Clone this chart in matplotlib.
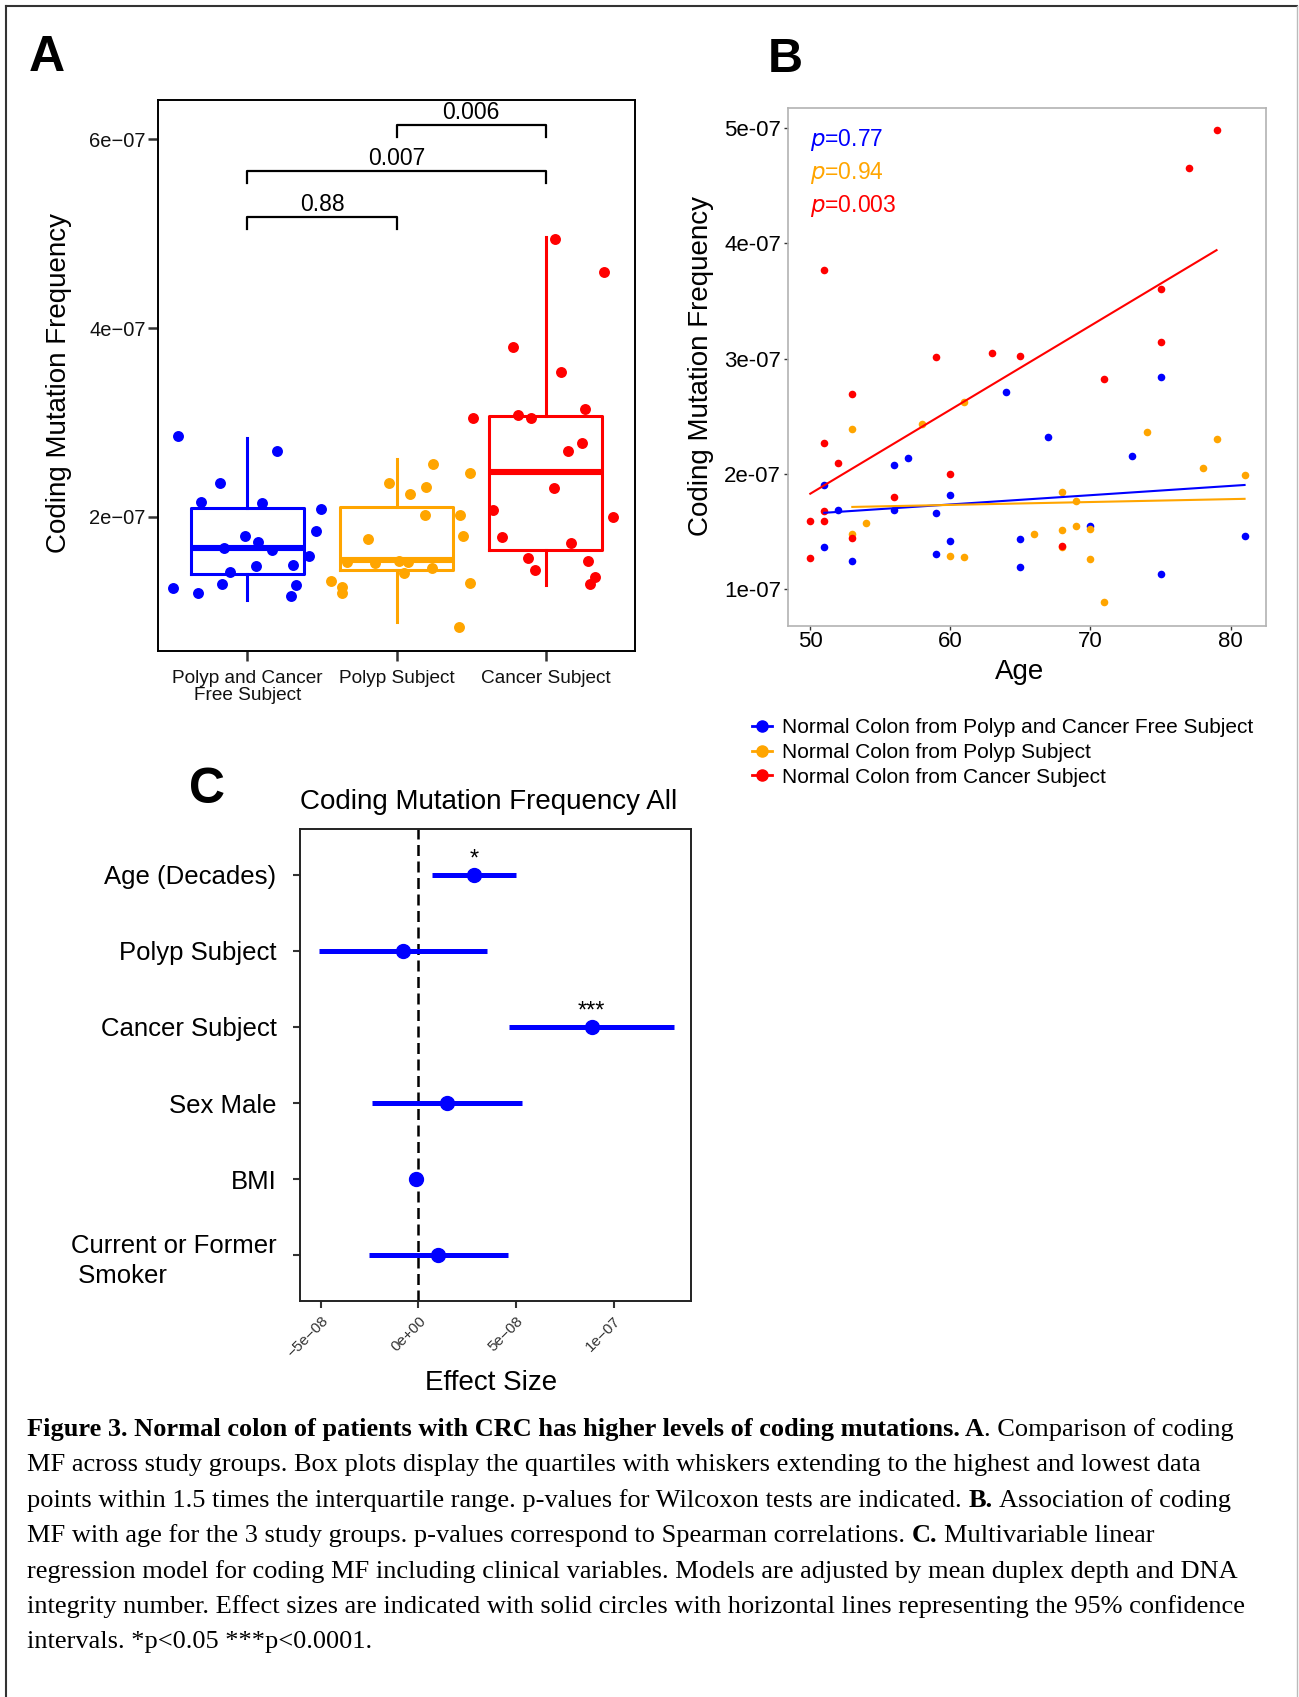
import numpy as np
import matplotlib.pyplot as plt
from matplotlib.lines import Line2D

W, H = 1299, 1697
BLUE, ORANGE, RED = '#0000FF', '#FFA500', '#FF0000'
SANS = 'Liberation Sans'
SERIF = 'Liberation Serif'
plt.rcParams['font.family'] = SANS

# ---------------- panel A: coding MF per group (units 1e-7) ----------------
a_groups = ['Polyp and Cancer\nFree Subject', 'Polyp Subject', 'Cancer Subject']
free_mf = [2.855, 2.696, 2.361, 2.155, 2.147, 2.080, 1.853, 1.803, 1.732, 1.669,
           1.648, 1.581, 1.488, 1.480, 1.417, 1.291, 1.245, 1.279, 1.199, 1.166]
free_jit = [-0.465, 0.198, -0.185, -0.314, 0.096, 0.494, 0.459, -0.013, 0.073, -0.154,
            0.165, 0.410, 0.305, 0.056, -0.116, -0.169, -0.499, 0.323, -0.334, 0.292]
polyp_mf = [2.562, 2.461, 2.361, 2.319, 2.247, 2.017, 2.017, 1.795, 1.769, 1.526,
            1.514, 1.535, 1.526, 1.409, 1.455, 1.317, 1.258, 1.191, 1.304, 0.830]
polyp_jit = [0.247, 0.490, -0.049, 0.198, 0.091, 0.192, 0.425, 0.443, -0.194, -0.334,
             -0.143, 0.018, 0.080, 0.047, 0.241, -0.439, -0.367, -0.363, 0.492, 0.416]
cancer_mf = [4.943, 4.595, 3.799, 3.535, 3.145, 3.044, 3.082, 3.044, 2.784, 2.700,
             2.302, 2.075, 1.996, 1.790, 1.727, 1.564, 1.438, 1.535, 1.367, 1.287]
cancer_jit = [0.060, 0.390, -0.218, 0.102, 0.267, -0.486, -0.185, -0.100, 0.245, 0.149,
              0.058, -0.352, 0.452, -0.290, 0.174, -0.118, -0.073, 0.285, 0.332, 0.301]

# box statistics as drawn (units 1e-7)
a_q1 = [1.400, 1.442, 1.652]
a_med = [1.669, 1.547, 2.474]
a_q3 = [2.092, 2.109, 3.065]
a_lo = [1.124, 0.885, 1.275]
a_hi = [2.834, 2.612, 4.964]

a_yticks = [2e-7, 4e-7, 6e-7]
a_yticklabels = ['2e\u221207', '4e\u221207', '6e\u221207']

br_pairs = [(1, 2), (1, 3), (2, 3)]
br_y = [5.175, 5.664, 6.155]
br_labels = ['0.88', '0.007', '0.006']

# ---------------- panel B: MF vs age (units 1e-7) ----------------
b_free_age = [75, 64, 67, 73, 57, 56, 51, 60, 52, 56, 59, 70, 81, 65, 60, 51, 59, 53, 65, 75]
b_free_mf = [2.844, 2.707, 2.318, 2.155, 2.138, 2.082, 1.905, 1.819, 1.692, 1.686,
             1.662, 1.552, 1.459, 1.436, 1.419, 1.363, 1.306, 1.246, 1.196, 1.130]
b_polyp_age = [61, 58, 53, 74, 79, 78, 81, 68, 69, 54, 69, 68, 70, 53, 66, 68, 60, 61, 70, 71]
b_polyp_mf = [2.621, 2.431, 2.388, 2.361, 2.304, 2.048, 1.995, 1.845, 1.762, 1.572,
              1.552, 1.516, 1.526, 1.479, 1.479, 1.369, 1.286, 1.283, 1.263, 0.890]
b_cancer_age = [79, 77, 51, 75, 75, 59, 63, 65, 71, 53, 51, 52, 60, 56, 51, 50, 51, 53, 50, 68]
b_cancer_mf = [4.980, 4.651, 3.772, 3.602, 3.143, 3.013, 3.050, 3.027, 2.824, 2.694,
               2.268, 2.095, 1.998, 1.799, 1.676, 1.592, 1.596, 1.446, 1.273, 1.379]
b_pvals = ['0.77', '0.94', '0.003']
b_labels = ['Normal Colon from Polyp and Cancer Free Subject',
            'Normal Colon from Polyp Subject',
            'Normal Colon from Cancer Subject']

# ---------------- panel C: regression effects (units 1e-8) ----------------
c_vars = ['Age (Decades)', 'Polyp Subject', 'Cancer Subject', 'Sex Male', 'BMI',
          'Current or Former\n Smoker']
c_est = [2.85, -0.81, 8.87, 1.45, -0.11, 1.01]
c_lo = [0.70, -5.12, 4.62, -2.39, -0.20, -2.52]
c_hi = [4.99, 3.53, 13.10, 5.30, -0.02, 4.58]
c_stars = ['*', '', '***', '', '', '']
c_xticks = [-5e-8, 0, 5e-8, 1e-7]
c_xticklabels = ['\u22125e\u221208', '0e+00', '5e\u221208', '1e\u221207']

caption = [
    [("Figure 3. Normal colon of patients with CRC has higher levels of coding mutations. A", True, False),
     (". Comparison of coding", False, False)],
    [("MF across study groups. Box plots display the quartiles with whiskers extending to the highest and lowest data", False, False)],
    [("points within 1.5 times the interquartile range. p-values for Wilcoxon tests are indicated.", False, False),
     ("B.", True, True), ("Association of coding", False, True)],
    [("MF with age for the 3 study groups. p-values correspond to Spearman correlations.", False, False),
     ("C.", True, True), ("Multivariable linear", False, True)],
    [("regression model for coding MF including clinical variables. Models are adjusted by mean duplex depth and DNA", False, False)],
    [("integrity number. Effect sizes are indicated with solid circles with horizontal lines representing the 95% confidence", False, False)],
    [("intervals. *p<0.05 ***p<0.0001.", False, False)],
]


def rect(l, t, r, b):
    return [l / W, 1 - b / H, (r - l) / W, (b - t) / H]


fig = plt.figure(figsize=(W / 100, H / 100), dpi=100)

# page frame
fig.add_artist(Line2D([6 / W, 1297 / W], [1 - 6 / H, 1 - 6 / H], color='#333333', lw=1.5))
fig.add_artist(Line2D([6 / W, 6 / W], [0, 1 - 6 / H], color='#333333', lw=1.5))
fig.add_artist(Line2D([1297 / W, 1297 / W], [0, 1 - 6 / H], color='#bbbbbb', lw=1.0))

# panel letters
fig.text(29 / W, 1 - 71 / H, 'A', fontsize=36, fontweight='bold', va='baseline')
fig.text(768 / W, 1 - 72 / H, 'B', fontsize=35, fontweight='bold', va='baseline')
fig.text(189 / W, 1 - 803 / H, 'C', fontsize=36, fontweight='bold', va='baseline')

# ---------------- A ----------------
axA = fig.add_axes(rect(158, 100, 635, 651))
colors = [BLUE, ORANGE, RED]
stats = []
for i in range(3):
    stats.append(dict(med=a_med[i] * 1e-7, q1=a_q1[i] * 1e-7, q3=a_q3[i] * 1e-7,
                      whislo=a_lo[i] * 1e-7, whishi=a_hi[i] * 1e-7, fliers=[]))
bp = axA.bxp(stats, positions=[1, 2, 3], widths=0.76, showfliers=False, showcaps=False)
for i, c in enumerate(colors):
    bp['boxes'][i].set(color=c, lw=2.2)
    bp['medians'][i].set(color=c, lw=4.4, solid_capstyle='butt')
    for w in bp['whiskers'][2 * i:2 * i + 2]:
        w.set(color=c, lw=2.2)

for k, (mf, jit) in enumerate([(free_mf, free_jit), (polyp_mf, polyp_jit), (cancer_mf, cancer_jit)]):
    axA.scatter(k + 1 + np.array(jit), np.array(mf) * 1e-7, s=62, color=colors[k],
                linewidths=0, zorder=3)

for (x1, x2), yb, lab in zip(br_pairs, br_y, br_labels):
    y = yb * 1e-7
    d = 0.126e-7
    axA.plot([x1, x1, x2, x2], [y - d, y, y, y - d], color='black', lw=1.6)
    axA.annotate(lab, ((x1 + x2) / 2, y), xytext=(0, 0.5), textcoords='offset points',
                 ha='center', va='bottom', fontsize=16.5)

axA.set_xlim(0.4, 3.6)
axA.set_ylim(0.58e-7, 6.416e-7)
axA.set_xticks([1, 2, 3])
axA.set_xticklabels(a_groups, fontsize=13.7, linespacing=0.95)
axA.set_yticks(a_yticks)
axA.set_yticklabels(a_yticklabels, fontsize=14.5)
axA.tick_params(length=7, width=1.8, color='#333333', pad=2, labelcolor='#111111')
axA.tick_params(axis='x', pad=7)
for s in axA.spines.values():
    s.set_linewidth(1.4)
fig.text(59 / W, 1 - 383 / H, 'Coding Mutation Frequency', rotation=90, fontsize=20,
         ha='center', va='center')

# ---------------- B ----------------
axB = fig.add_axes(rect(788, 108, 1266, 626))
groupsB = [(b_free_age, b_free_mf), (b_polyp_age, b_polyp_mf), (b_cancer_age, b_cancer_mf)]
for (age, mf), c in zip(groupsB, colors):
    axB.scatter(age, np.array(mf) * 1e-7, s=30, color=c, linewidths=0, zorder=2)
for (age, mf), c in zip(groupsB, colors):
    slope, icpt = np.polyfit(age, mf, 1)
    xs = np.array([min(age), max(age)])
    axB.plot(xs, (icpt + slope * xs) * 1e-7, color=c, lw=1.5, zorder=3)
for i, (pv, c) in enumerate(zip(b_pvals, colors)):
    axB.annotate('$\\mathit{p}$=' + pv, (0, 1), xycoords='axes fraction',
                 xytext=(22, -32 - 33 * i), textcoords='offset pixels',
                 ha='left', va='center', fontsize=16.5, color=c)
axB.set_xlim(48.41, 82.53)
axB.set_ylim(0.682e-7, 5.174e-7)
axB.set_xticks([50, 60, 70, 80])
axB.set_yticks([1e-7, 2e-7, 3e-7, 4e-7, 5e-7])
axB.set_yticklabels(['1e-07', '2e-07', '3e-07', '4e-07', '5e-07'])
axB.tick_params(length=3, width=1, color='#333333', labelsize=16, pad=2)
axB.tick_params(axis='x', pad=0.5)
for s in axB.spines.values():
    s.set_color('#b3b3b3')
    s.set_linewidth(1.2)
fig.text(701 / W, 1 - 366 / H, 'Coding Mutation Frequency', rotation=90, fontsize=20,
         ha='center', va='center')
fig.text(1020 / W, 1 - 679 / H, 'Age', fontsize=20, ha='center', va='baseline')

handles = [Line2D([0], [0], color=c, lw=2, marker='o', markersize=8) for c in colors]
fig.legend(handles, b_labels, loc='upper left', bbox_to_anchor=(752 / W, 1 - 718 / H),
           frameon=False, fontsize=15, handlelength=0.95, handletextpad=0.5,
           labelspacing=0.28, borderpad=0, borderaxespad=0)

# ---------------- C ----------------
axC = fig.add_axes(rect(300, 829, 691, 1301))
ypos = np.arange(len(c_vars))[::-1] + 1
axC.axvline(0, color='black', lw=1.8, ls=(0, (4.4, 2.2)), zorder=1)
axC.hlines(ypos, np.array(c_lo) * 1e-8, np.array(c_hi) * 1e-8, color=BLUE, lw=3.6, zorder=2)
axC.plot(np.array(c_est) * 1e-8, ypos, 'o', color=BLUE, ms=10, zorder=3)
for yv, e, st in zip(ypos, c_est, c_stars):
    if st:
        axC.annotate(st, (e * 1e-8, yv), xytext=(0, 3), textcoords='offset points',
                     ha='center', va='bottom', fontsize=17)
axC.set_xlim(-6.07e-8, 1.396e-7)
axC.set_ylim(0.4, 6.6)
axC.set_yticks(ypos)
axC.set_yticklabels(c_vars, fontsize=18.5)
for lab in axC.get_yticklabels():
    lab.set_multialignment('left')
    lab.set_linespacing(1.35)
axC.set_xticks(c_xticks)
axC.set_xticklabels(c_xticklabels, rotation=45, ha='right', va='top',
                    rotation_mode='anchor', fontsize=11, color='#333333')
axC.tick_params(axis='y', length=5, width=1.5, color='#333333', pad=12)
axC.tick_params(axis='x', length=5, width=1.5, color='#333333', pad=4)
for s in axC.spines.values():
    s.set_linewidth(1.4)
    s.set_color('#222222')
fig.text(300 / W, 1 - 809 / H, 'Coding Mutation Frequency All', fontsize=20,
         ha='left', va='baseline')
fig.text(491 / W, 1 - 1390 / H, 'Effect Size', fontsize=20, ha='center', va='baseline')

# ---------------- caption ----------------
renderer = fig.canvas.get_renderer()
cap_size = 19
probe1 = fig.text(0, 0, 'a a', fontsize=cap_size, family=SERIF)
probe2 = fig.text(0, 0, 'aa', fontsize=cap_size, family=SERIF)
space_w = probe1.get_window_extent(renderer).width - probe2.get_window_extent(renderer).width
probe1.remove()
probe2.remove()
y0 = 1436
for row, segs in enumerate(caption):
    x = 27
    yb = y0 + row * 35.4
    for txt, bold, sp in segs:
        if sp:
            x += space_w
        t = fig.text(x / W, 1 - yb / H, txt, fontsize=cap_size, family=SERIF,
                     fontweight='bold' if bold else 'normal', va='baseline', ha='left')
        x += t.get_window_extent(renderer).width

fig.savefig('out.png', dpi=100)
